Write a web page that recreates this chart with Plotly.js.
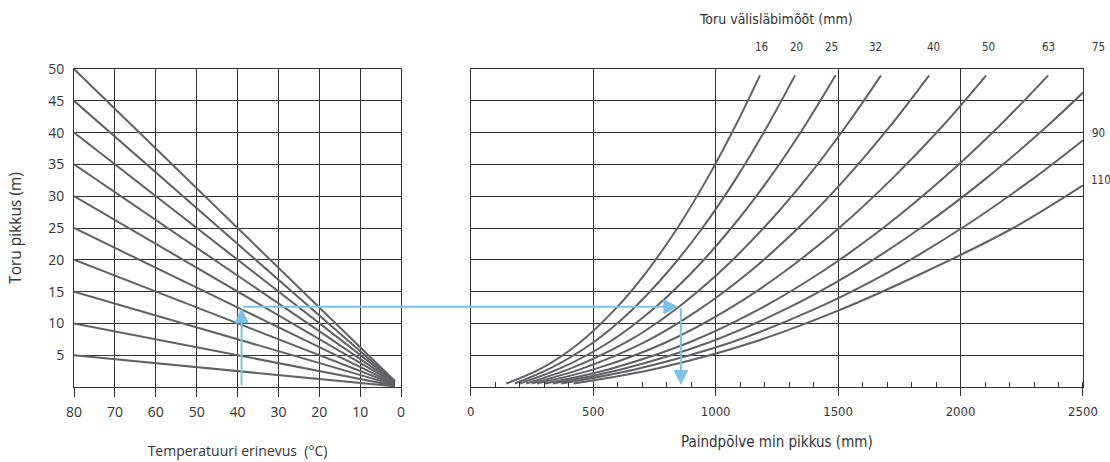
<!DOCTYPE html>
<html>
<head>
<meta charset="utf-8">
<script src="https://cdn.plot.ly/plotly-3.0.1.min.js"></script>
<style>
  html, body { margin: 0; padding: 0; background: #fff; }
  #chart { width: 1110px; height: 462px; }
</style>
</head>
<body>
<div id="chart"></div>
<script>
// ---------- DATA ----------
// Left panel: temperature difference (°C) vs pipe length (m)
const tempTicks = [80, 70, 60, 50, 40, 30, 20, 10, 0];
const lengthTicks = [5, 10, 15, 20, 25, 30, 35, 40, 45, 50];
const fanStartTemp = 80;
const fanEndTemp = 1.5;
const fanStartLengths = [5, 10, 15, 20, 25, 30, 35, 40, 45, 50];
const fanEndValues = [0.1, 0.2, 0.3, 0.4, 0.5, 0.6, 0.7, 0.8, 0.85, 0.95];

// Right panel: min bend-leg length (mm) per pipe outer diameter
const bendTicks = [0, 500, 1000, 1500, 2000, 2500];
const diameters = ['16', '20', '25', '32', '40', '50', '63', '75', '90', '110'];
const lenSteps = [0.55, 3, 7, 12, 18, 25, 33, 41, 49];
const bend16 = [145, 292, 446, 584, 716, 844, 969, 1080, 1181];
const bend20 = [180, 328, 500, 655, 802, 946, 1087, 1211, 1324];
const bend25 = [200, 369, 563, 737, 903, 1064, 1223, 1363, 1490];
const bend32 = [226, 414, 633, 829, 1015, 1196, 1375, 1532, 1675];
const bend40 = [248, 463, 708, 926, 1135, 1337, 1536, 1712, 1872];
const bend50 = [270, 521, 796, 1042, 1276, 1504, 1727, 1926, 2105];
const bend63 = [303, 583, 891, 1167, 1429, 1684, 1935, 2157, 2358];
const lenSteps75 = [0.55, 3, 7, 12, 18, 25, 33, 41, 46.3];
const bend75 = [335, 636, 972, 1273, 1559, 1837, 2111, 2353, 2500];
const lenSteps90 = [0.55, 3, 7, 12, 18, 25, 33, 38.8];
const bend90 = [370, 695, 1062, 1390, 1703, 2006, 2305, 2500];
const lenSteps110 = [0.55, 3, 7, 12, 18, 25, 31.7];
const bend110 = [420, 770, 1150, 1500, 1850, 2215, 2500];

// Diameter labels (positions in data units of right panel)
const topLabels = ['16', '20', '25', '32', '40', '50', '63', '75'];
const topLabelX = [1189, 1332, 1475, 1651, 1888, 2115, 2360, 2564];
const topLabelY = 53.4;
const sideLabels = ['90', '110'];
const sideLabelX = [2564, 2572];
const sideLabelY = [39.9, 32.5];

// Example reading (blue arrows)
const exampleTemp = 39;
const exampleLength = 12.6;
const exampleArrowTip = 848;
const exampleBend = 858;
const exampleBottom = 0.3;

// ---------- STYLE ----------
const curveColor = '#5e6265';
const gridColor = '#333333';
const blue = '#7cc2e8';
const textColor = '#333333';
const fontReg = 'Open Sans, Noto Sans, sans-serif';
const fontNarrow = 'DejaVu Sans Condensed, DejaVu Sans, sans-serif';

const W = 1110, H = 462;
const M = {l: 74, r: 27, t: 69, b: 75};
const plotW = W - M.l - M.r;
const domL = [0, 0.3241];
const domR = [0.3932, 1];

const traces = [];
fanStartLengths.forEach((L, i) => {
  traces.push({
    x: [fanStartTemp, fanEndTemp], y: [L, fanEndValues[i]],
    xaxis: 'x', yaxis: 'y', mode: 'lines', type: 'scatter',
    line: {color: curveColor, width: 2}, hoverinfo: 'skip', showlegend: false
  });
});
const bendSeries = [
  [bend16, lenSteps], [bend20, lenSteps], [bend25, lenSteps], [bend32, lenSteps],
  [bend40, lenSteps], [bend50, lenSteps], [bend63, lenSteps],
  [bend75, lenSteps75], [bend90, lenSteps90], [bend110, lenSteps110]
];
bendSeries.forEach((s, i) => {
  traces.push({
    x: s[0], y: s[1], name: diameters[i],
    xaxis: 'x2', yaxis: 'y2', mode: 'lines', type: 'scatter',
    line: {color: curveColor, width: 2, shape: 'spline', smoothing: 1},
    hoverinfo: 'skip', showlegend: false
  });
});

// helpers: right-panel data -> paper / pixels
function paperXR(v) { return domR[0] + v / 2500 * (domR[1] - domR[0]); }
function paperY(L) { return L / 50; }
function pxLeft(t) { return M.l + plotW * (domL[0] + (80 - t) / 80 * (domL[1] - domL[0])); }
function pxRight(v) { return M.l + plotW * paperXR(v); }

const annotations = [];
annotations.push({
  text: 'Toru välisläbimõõt (mm)', xref: 'paper', yref: 'paper',
  x: 0.6957, y: 1.157, xanchor: 'center', yanchor: 'middle', showarrow: false,
  font: {family: fontNarrow, size: 14, color: textColor}
});
topLabels.forEach((t, i) => annotations.push({
  text: t, xref: 'paper', yref: 'paper', x: paperXR(topLabelX[i]), y: paperY(topLabelY),
  xanchor: 'center', yanchor: 'middle', showarrow: false,
  font: {family: fontNarrow, size: 11.5, color: textColor}
}));
sideLabels.forEach((t, i) => annotations.push({
  text: t, xref: 'paper', yref: 'paper', x: paperXR(sideLabelX[i]), y: paperY(sideLabelY[i]),
  xanchor: 'center', yanchor: 'middle', showarrow: false,
  font: {family: fontNarrow, size: 11.5, color: textColor}
}));
// blue arrows
annotations.push({
  text: '', xref: 'x', yref: 'y', axref: 'x', ayref: 'y',
  x: exampleTemp, y: exampleLength - 0.2, ax: exampleTemp, ay: 0,
  showarrow: true, arrowhead: 2, arrowsize: 1.5, arrowwidth: 2, arrowcolor: blue, standoff: 0
});
annotations.push({
  text: '', xref: 'x2', yref: 'y2', axref: 'pixel', ayref: 'pixel',
  x: exampleArrowTip, y: exampleLength,
  ax: pxLeft(exampleTemp) - pxRight(exampleArrowTip), ay: 0.0001,
  showarrow: true, arrowhead: 2, arrowsize: 1.5, arrowwidth: 2, arrowcolor: blue, standoff: 0
});
annotations.push({
  text: '', xref: 'x2', yref: 'y2', axref: 'x2', ayref: 'y2',
  x: exampleBend, y: exampleBottom, ax: exampleBend, ay: exampleLength,
  showarrow: true, arrowhead: 2, arrowsize: 1.5, arrowwidth: 2, arrowcolor: blue, standoff: 0
});

const axisCommon = {
  showgrid: true, gridcolor: gridColor, gridwidth: 1,
  showline: true, mirror: true, linecolor: gridColor, linewidth: 1,
  zeroline: false, fixedrange: true
};

const layout = {
  width: W, height: H,
  margin: M,
  paper_bgcolor: '#ffffff', plot_bgcolor: '#ffffff',
  font: {family: fontReg, color: textColor, size: 13},
  showlegend: false,
  xaxis: Object.assign({}, axisCommon, {
    domain: domL, range: [80, 0], tickmode: 'array', tickvals: tempTicks,
    ticktext: tempTicks.map(String),
    ticks: 'outside', ticklen: 9, tickcolor: gridColor, tickwidth: 1,
    ticklabelstandoff: 3,
    tickfont: {family: fontReg, size: 14, color: textColor},
    anchor: 'y',
    title: {text: 'Temperatuuri erinevus \u00a0(°C)', standoff: 26,
            font: {family: fontReg, size: 14, color: textColor}}
  }),
  yaxis: Object.assign({}, axisCommon, {
    domain: [0, 1], range: [0, 50], tickmode: 'array', tickvals: lengthTicks,
    ticktext: lengthTicks.map(String), ticks: '', ticklabelstandoff: 6,
    tickfont: {family: fontReg, size: 14, color: textColor},
    anchor: 'x',
    title: {text: 'Toru pikkus (m)', standoff: 22,
            font: {family: fontReg, size: 15.5, color: textColor}}
  }),
  xaxis2: Object.assign({}, axisCommon, {
    domain: domR, range: [0, 2500], tickmode: 'array', tickvals: bendTicks,
    ticktext: bendTicks.map(String),
    ticks: 'outside', ticklen: 8, tickcolor: gridColor, tickwidth: 1,
    ticklabelstandoff: 4,
    minor: {dtick: 100, tick0: 0, ticks: 'inside', ticklen: 5, tickcolor: gridColor, showgrid: false},
    tickfont: {family: fontNarrow, size: 13, color: textColor},
    anchor: 'y2',
    title: {text: 'Paindpõlve min pikkus (mm)', standoff: 18,
            font: {family: fontNarrow, size: 15, color: textColor}}
  }),
  yaxis2: Object.assign({}, axisCommon, {
    domain: [0, 1], range: [0, 50], tickmode: 'array', tickvals: lengthTicks,
    showticklabels: false, ticks: '', anchor: 'x2'
  }),
  annotations: annotations
};

Plotly.newPlot('chart', traces, layout, {staticPlot: true, displayModeBar: false});
</script>
</body>
</html>
